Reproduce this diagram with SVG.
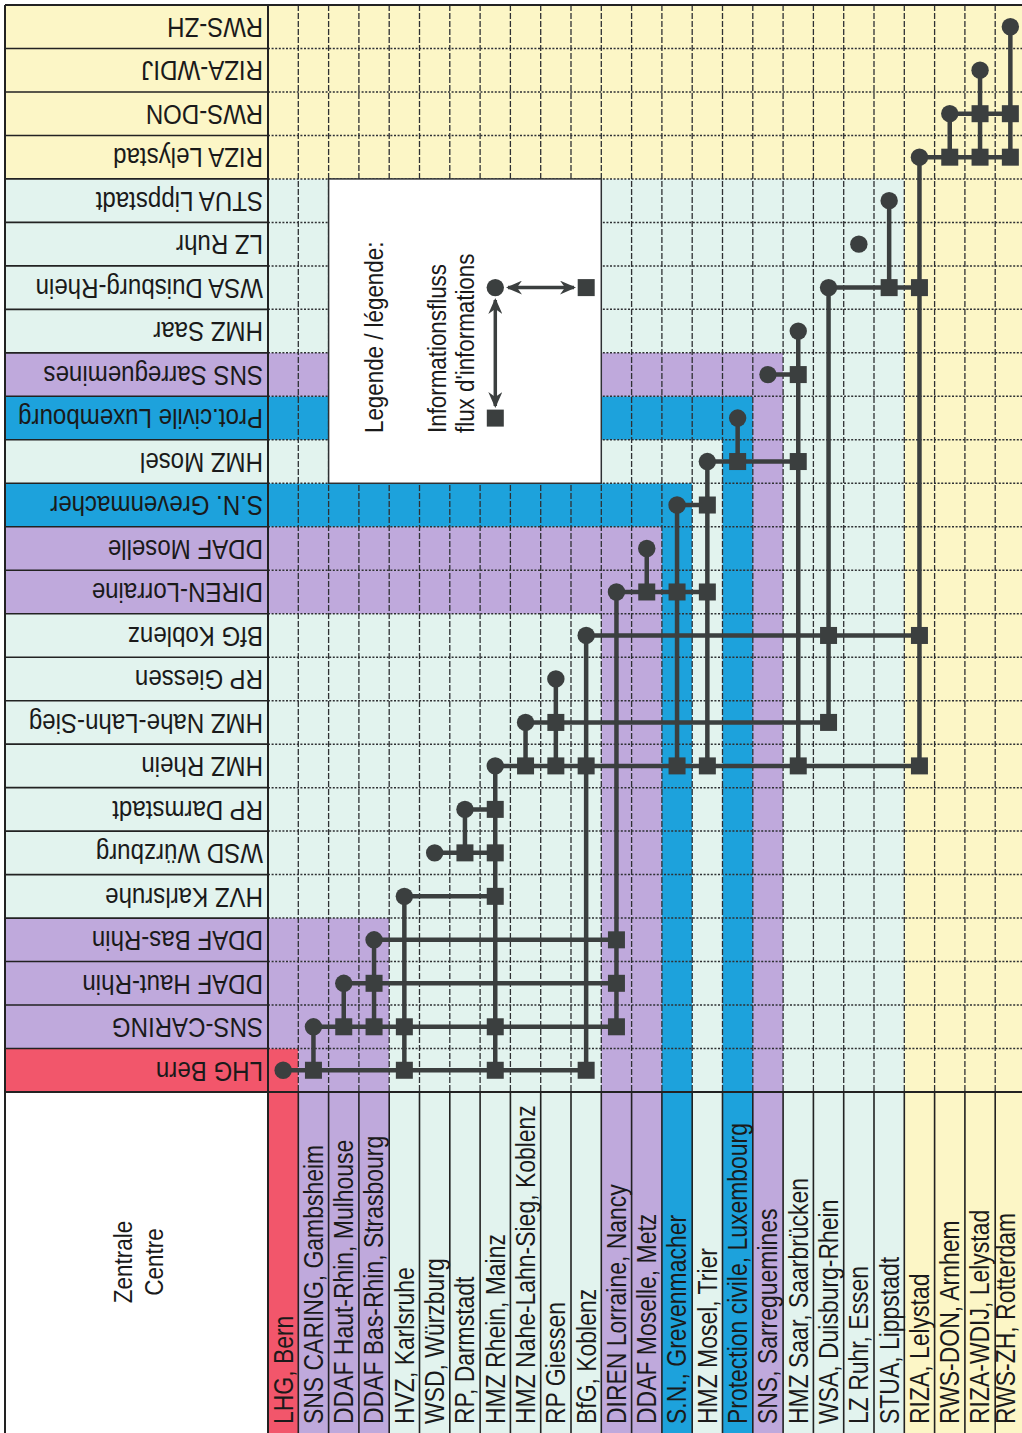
<svg xmlns="http://www.w3.org/2000/svg" xmlns:xlink="http://www.w3.org/1999/xlink" width="1022" height="1433" viewBox="0 0 1022 1433">
<style>
.t{font-family:"Liberation Sans",Arial,sans-serif;fill:#1a1a1a}
.rl{font-size:28px}
.cl{font-size:27px}
.lg{font-size:26px}
.zt{font-size:25px}
.re{fill:#f2566b}.pu{fill:#bfa9dc}.cy{fill:#e2f3ee}.bl{fill:#1da2dc}.ye{fill:#fcf6c6}
.gh{stroke:#2e3033;stroke-width:1.5;stroke-dasharray:2 1.6;fill:none}
.gv{stroke:#2e3033;stroke-width:1.3;stroke-dasharray:6 2;fill:none}
.sep{stroke:#222;stroke-width:1.6;fill:none}
.bd{stroke:#222;stroke-width:2;fill:none}
.ln{stroke:#3b3f3f;stroke-width:4.5;fill:none}
.nd{fill:#3b3f3f}
</style>
<defs>
<rect id="sq" x="-8.5" y="-8.5" width="17" height="17" class="nd"/>
<circle id="ci" r="8.7" class="nd"/>
<marker id="ah" viewBox="0 0 16 14" refX="14" refY="7" markerWidth="16" markerHeight="14" markerUnits="userSpaceOnUse" orient="auto-start-reverse">
<path d="M0,0 L16,7 L0,14 L5,7 z" fill="#3b3f3f"/>
</marker>
</defs>
<rect width="1022" height="1433" fill="#ffffff"/>
<g id="bands">
<rect class="re" x="5" y="1048.52" width="293.3" height="43.48"/><rect class="re" x="268" y="1048.52" width="30.3" height="384.48"/>
<rect class="pu" x="5" y="1005.04" width="323.6" height="43.48"/><rect class="pu" x="298.3" y="1005.04" width="30.3" height="427.96"/>
<rect class="pu" x="5" y="961.56" width="353.9" height="43.48"/><rect class="pu" x="328.6" y="961.56" width="30.3" height="471.44"/>
<rect class="pu" x="5" y="918.08" width="384.2" height="43.48"/><rect class="pu" x="358.9" y="918.08" width="30.3" height="514.92"/>
<rect class="cy" x="5" y="874.6" width="414.5" height="43.48"/><rect class="cy" x="389.2" y="874.6" width="30.3" height="558.4"/>
<rect class="cy" x="5" y="831.12" width="444.8" height="43.48"/><rect class="cy" x="419.5" y="831.12" width="30.3" height="601.88"/>
<rect class="cy" x="5" y="787.64" width="475.1" height="43.48"/><rect class="cy" x="449.8" y="787.64" width="30.3" height="645.36"/>
<rect class="cy" x="5" y="744.16" width="505.4" height="43.48"/><rect class="cy" x="480.1" y="744.16" width="30.3" height="688.84"/>
<rect class="cy" x="5" y="700.68" width="535.7" height="43.48"/><rect class="cy" x="510.4" y="700.68" width="30.3" height="732.32"/>
<rect class="cy" x="5" y="657.2" width="566" height="43.48"/><rect class="cy" x="540.7" y="657.2" width="30.3" height="775.8"/>
<rect class="cy" x="5" y="613.72" width="596.3" height="43.48"/><rect class="cy" x="571" y="613.72" width="30.3" height="819.28"/>
<rect class="pu" x="5" y="570.24" width="626.6" height="43.48"/><rect class="pu" x="601.3" y="570.24" width="30.3" height="862.76"/>
<rect class="pu" x="5" y="526.76" width="656.9" height="43.48"/><rect class="pu" x="631.6" y="526.76" width="30.3" height="906.24"/>
<rect class="bl" x="5" y="483.28" width="687.2" height="43.48"/><rect class="bl" x="661.9" y="483.28" width="30.3" height="949.72"/>
<rect class="cy" x="5" y="439.8" width="717.5" height="43.48"/><rect class="cy" x="692.2" y="439.8" width="30.3" height="993.2"/>
<rect class="bl" x="5" y="396.32" width="747.8" height="43.48"/><rect class="bl" x="722.5" y="396.32" width="30.3" height="1036.68"/>
<rect class="pu" x="5" y="352.84" width="778.1" height="43.48"/><rect class="pu" x="752.8" y="352.84" width="30.3" height="1080.16"/>
<rect class="cy" x="5" y="309.36" width="808.4" height="43.48"/><rect class="cy" x="783.1" y="309.36" width="30.3" height="1123.64"/>
<rect class="cy" x="5" y="265.88" width="838.7" height="43.48"/><rect class="cy" x="813.4" y="265.88" width="30.3" height="1167.12"/>
<rect class="cy" x="5" y="222.4" width="869" height="43.48"/><rect class="cy" x="843.7" y="222.4" width="30.3" height="1210.6"/>
<rect class="cy" x="5" y="178.92" width="899.3" height="43.48"/><rect class="cy" x="874" y="178.92" width="30.3" height="1254.08"/>
<rect class="ye" x="5" y="135.44" width="929.6" height="43.48"/><rect class="ye" x="904.3" y="135.44" width="30.3" height="1297.56"/>
<rect class="ye" x="5" y="91.96" width="959.9" height="43.48"/><rect class="ye" x="934.6" y="91.96" width="30.3" height="1341.04"/>
<rect class="ye" x="5" y="48.48" width="990.2" height="43.48"/><rect class="ye" x="964.9" y="48.48" width="30.3" height="1384.52"/>
<rect class="ye" x="5" y="5" width="1017" height="43.48"/><rect class="ye" x="995.2" y="5" width="30.3" height="1428"/>
</g>
<g id="grid">
<path class="gh" d="M268 48.48H1022M268 91.96H1022M268 135.44H1022M268 178.92H1022M268 222.4H1022M268 265.88H1022M268 309.36H1022M268 352.84H1022M268 396.32H1022M268 439.8H1022M268 483.28H1022M268 526.76H1022M268 570.24H1022M268 613.72H1022M268 657.2H1022M268 700.68H1022M268 744.16H1022M268 787.64H1022M268 831.12H1022M268 874.6H1022M268 918.08H1022M268 961.56H1022M268 1005.04H1022M268 1048.52H1022"/>
<path class="gv" d="M298.3 5V1092M328.6 5V1092M358.9 5V1092M389.2 5V1092M419.5 5V1092M449.8 5V1092M480.1 5V1092M510.4 5V1092M540.7 5V1092M571 5V1092M601.3 5V1092M631.6 5V1092M661.9 5V1092M692.2 5V1092M722.5 5V1092M752.8 5V1092M783.1 5V1092M813.4 5V1092M843.7 5V1092M874 5V1092M904.3 5V1092M934.6 5V1092M964.9 5V1092M995.2 5V1092"/>
<path class="sep" d="M5 48.48H268M5 91.96H268M5 135.44H268M5 178.92H268M5 222.4H268M5 265.88H268M5 309.36H268M5 352.84H268M5 396.32H268M5 439.8H268M5 483.28H268M5 526.76H268M5 570.24H268M5 613.72H268M5 657.2H268M5 700.68H268M5 744.16H268M5 787.64H268M5 831.12H268M5 874.6H268M5 918.08H268M5 961.56H268M5 1005.04H268M5 1048.52H268"/>
<path class="sep" d="M298.3 1092V1433M328.6 1092V1433M358.9 1092V1433M389.2 1092V1433M419.5 1092V1433M449.8 1092V1433M480.1 1092V1433M510.4 1092V1433M540.7 1092V1433M571 1092V1433M601.3 1092V1433M631.6 1092V1433M661.9 1092V1433M692.2 1092V1433M722.5 1092V1433M752.8 1092V1433M783.1 1092V1433M813.4 1092V1433M843.7 1092V1433M874 1092V1433M904.3 1092V1433M934.6 1092V1433M964.9 1092V1433M995.2 1092V1433"/>
<path class="bd" d="M5 5H1022M5 5V1433M268 5V1433M5 1092H1022"/>
</g>
<g id="legend">
<rect x="328.6" y="178.92" width="272.7" height="304.36" fill="#ffffff" stroke="#2e3033" stroke-width="1.5"/>
<text class="t lg" transform="translate(383,433) rotate(-90) scale(0.86,1)">Legende / légende:</text>
<text class="t lg" transform="translate(446,433) rotate(-90) scale(0.86,1)">Informationsfluss</text>
<text class="t lg" transform="translate(474,433) rotate(-90) scale(0.86,1)">flux d'informations</text>
<line x1="508" y1="287.6" x2="574" y2="287.6" stroke="#3b3f3f" stroke-width="3.5" marker-start="url(#ah)" marker-end="url(#ah)"/>
<line x1="495.3" y1="300" x2="495.3" y2="406" stroke="#3b3f3f" stroke-width="3.5" marker-start="url(#ah)" marker-end="url(#ah)"/>
<use href="#ci" x="495.3" y="287.6"/>
<use href="#sq" x="586.2" y="287.6"/>
<use href="#sq" x="495.3" y="418.1"/>
</g>
<g id="zentrale">
<text class="t zt" text-anchor="middle" transform="translate(132,1262) rotate(-90) scale(0.9,1)">Zentrale</text>
<text class="t zt" text-anchor="middle" transform="translate(163,1262) rotate(-90) scale(0.9,1)">Centre</text>
</g>
<g id="connectors">
<path class="ln" d="M283.15 1070.26H586.15M313.45 1026.78H616.45M343.75 983.3H616.45M374.05 939.82H616.45M404.35 896.34H495.25M434.65 852.86H495.25M464.95 809.38H495.25M495.25 765.9H919.45M525.55 722.42H828.55M586.15 635.46H919.45M616.45 591.98H707.35M677.05 505.02H707.35M707.35 461.54H798.25M767.95 374.58H798.25M828.55 287.62H919.45M919.45 157.18H1010.35M949.75 113.7H1010.35"/>
<path class="ln" d="M313.45 1026.78V1070.26M343.75 983.3V1026.78M374.05 939.82V1026.78M404.35 896.34V1070.26M464.95 809.38V852.86M495.25 765.9V1070.26M525.55 722.42V765.9M555.85 678.94V765.9M586.15 635.46V1070.26M616.45 591.98V1026.78M646.75 548.5V591.98M677.05 505.02V765.9M707.35 461.54V765.9M737.65 418.06V461.54M798.25 331.1V765.9M828.55 287.62V722.42M889.15 200.66V287.62M919.45 157.18V765.9M949.75 113.7V157.18M980.05 70.22V157.18M1010.35 26.74V157.18"/>
<use href="#sq" x="313.45" y="1070.26"/><use href="#sq" x="404.35" y="1070.26"/><use href="#sq" x="495.25" y="1070.26"/><use href="#sq" x="586.15" y="1070.26"/>
<use href="#sq" x="343.75" y="1026.78"/><use href="#sq" x="374.05" y="1026.78"/><use href="#sq" x="404.35" y="1026.78"/><use href="#sq" x="495.25" y="1026.78"/><use href="#sq" x="616.45" y="1026.78"/>
<use href="#sq" x="374.05" y="983.3"/><use href="#sq" x="616.45" y="983.3"/>
<use href="#sq" x="616.45" y="939.82"/>
<use href="#sq" x="495.25" y="896.34"/>
<use href="#sq" x="464.95" y="852.86"/><use href="#sq" x="495.25" y="852.86"/>
<use href="#sq" x="495.25" y="809.38"/>
<use href="#sq" x="525.55" y="765.9"/><use href="#sq" x="555.85" y="765.9"/><use href="#sq" x="586.15" y="765.9"/><use href="#sq" x="677.05" y="765.9"/><use href="#sq" x="707.35" y="765.9"/><use href="#sq" x="798.25" y="765.9"/><use href="#sq" x="919.45" y="765.9"/>
<use href="#sq" x="555.85" y="722.42"/><use href="#sq" x="828.55" y="722.42"/>
<use href="#sq" x="828.55" y="635.46"/><use href="#sq" x="919.45" y="635.46"/>
<use href="#sq" x="646.75" y="591.98"/><use href="#sq" x="677.05" y="591.98"/><use href="#sq" x="707.35" y="591.98"/>
<use href="#sq" x="707.35" y="505.02"/>
<use href="#sq" x="737.65" y="461.54"/><use href="#sq" x="798.25" y="461.54"/>
<use href="#sq" x="798.25" y="374.58"/>
<use href="#sq" x="889.15" y="287.62"/><use href="#sq" x="919.45" y="287.62"/>
<use href="#sq" x="949.75" y="157.18"/><use href="#sq" x="980.05" y="157.18"/><use href="#sq" x="1010.35" y="157.18"/>
<use href="#sq" x="980.05" y="113.7"/><use href="#sq" x="1010.35" y="113.7"/>
</g>
<g id="n00"><text class="t rl" transform="translate(263,1061.52) rotate(180) scale(0.86,1)">LHG Bern</text><text class="t cl" transform="translate(292.5,1424) rotate(-90) scale(0.85,1)">LHG, Bern</text><use href="#ci" x="283.15" y="1070.26"/></g>
<g id="n01"><text class="t rl" transform="translate(263,1018.04) rotate(180) scale(0.86,1)">SNS-CARING</text><text class="t cl" transform="translate(322.8,1424) rotate(-90) scale(0.85,1)">SNS CARING, Gambsheim</text><use href="#ci" x="313.45" y="1026.78"/></g>
<g id="n02"><text class="t rl" transform="translate(263,974.56) rotate(180) scale(0.86,1)">DDAF Haut-Rhin</text><text class="t cl" transform="translate(353.1,1424) rotate(-90) scale(0.85,1)">DDAF Haut-Rhin, Mulhouse</text><use href="#ci" x="343.75" y="983.3"/></g>
<g id="n03"><text class="t rl" transform="translate(263,931.08) rotate(180) scale(0.86,1)">DDAF Bas-Rhin</text><text class="t cl" transform="translate(383.4,1424) rotate(-90) scale(0.85,1)">DDAF Bas-Rhin, Strasbourg</text><use href="#ci" x="374.05" y="939.82"/></g>
<g id="n04"><text class="t rl" transform="translate(263,887.6) rotate(180) scale(0.86,1)">HVZ Karlsruhe</text><text class="t cl" transform="translate(413.7,1424) rotate(-90) scale(0.85,1)">HVZ, Karlsruhe</text><use href="#ci" x="404.35" y="896.34"/></g>
<g id="n05"><text class="t rl" transform="translate(263,844.12) rotate(180) scale(0.86,1)">WSD Würzburg</text><text class="t cl" transform="translate(444,1424) rotate(-90) scale(0.85,1)">WSD, Würzburg</text><use href="#ci" x="434.65" y="852.86"/></g>
<g id="n06"><text class="t rl" transform="translate(263,800.64) rotate(180) scale(0.86,1)">RP Darmstadt</text><text class="t cl" transform="translate(474.3,1424) rotate(-90) scale(0.85,1)">RP, Darmstadt</text><use href="#ci" x="464.95" y="809.38"/></g>
<g id="n07"><text class="t rl" transform="translate(263,757.16) rotate(180) scale(0.86,1)">HMZ Rhein</text><text class="t cl" transform="translate(504.6,1424) rotate(-90) scale(0.85,1)">HMZ Rhein, Mainz</text><use href="#ci" x="495.25" y="765.9"/></g>
<g id="n08"><text class="t rl" transform="translate(263,713.68) rotate(180) scale(0.86,1)">HMZ Nahe-Lahn-Sieg</text><text class="t cl" transform="translate(534.9,1424) rotate(-90) scale(0.85,1)">HMZ Nahe-Lahn-Sieg, Koblenz</text><use href="#ci" x="525.55" y="722.42"/></g>
<g id="n09"><text class="t rl" transform="translate(263,670.2) rotate(180) scale(0.86,1)">RP Giessen</text><text class="t cl" transform="translate(565.2,1424) rotate(-90) scale(0.85,1)">RP Giessen</text><use href="#ci" x="555.85" y="678.94"/></g>
<g id="n10"><text class="t rl" transform="translate(263,626.72) rotate(180) scale(0.86,1)">BfG Koblenz</text><text class="t cl" transform="translate(595.5,1424) rotate(-90) scale(0.85,1)">BfG, Koblenz</text><use href="#ci" x="586.15" y="635.46"/></g>
<g id="n11"><text class="t rl" transform="translate(263,583.24) rotate(180) scale(0.86,1)">DIREN-Lorraine</text><text class="t cl" transform="translate(625.8,1424) rotate(-90) scale(0.85,1)">DIREN Lorraine, Nancy</text><use href="#ci" x="616.45" y="591.98"/></g>
<g id="n12"><text class="t rl" transform="translate(263,539.76) rotate(180) scale(0.86,1)">DDAF Moselle</text><text class="t cl" transform="translate(656.1,1424) rotate(-90) scale(0.85,1)">DDAF Moselle, Metz</text><use href="#ci" x="646.75" y="548.5"/></g>
<g id="n13"><text class="t rl" transform="translate(263,496.28) rotate(180) scale(0.86,1)">S.N. Grevenmacher</text><text class="t cl" transform="translate(686.4,1424) rotate(-90) scale(0.85,1)">S.N., Grevenmacher</text><use href="#ci" x="677.05" y="505.02"/></g>
<g id="n14"><text class="t rl" transform="translate(263,452.8) rotate(180) scale(0.86,1)">HMZ Mosel</text><text class="t cl" transform="translate(716.7,1424) rotate(-90) scale(0.85,1)">HMZ Mosel, Trier</text><use href="#ci" x="707.35" y="461.54"/></g>
<g id="n15"><text class="t rl" transform="translate(263,409.32) rotate(180) scale(0.86,1)">Prot.civile Luxembourg</text><text class="t cl" transform="translate(747,1424) rotate(-90) scale(0.85,1)">Protection civile, Luxembourg</text><use href="#ci" x="737.65" y="418.06"/></g>
<g id="n16"><text class="t rl" transform="translate(263,365.84) rotate(180) scale(0.86,1)">SNS Sarreguemines</text><text class="t cl" transform="translate(777.3,1424) rotate(-90) scale(0.85,1)">SNS, Sarreguemines</text><use href="#ci" x="767.95" y="374.58"/></g>
<g id="n17"><text class="t rl" transform="translate(263,322.36) rotate(180) scale(0.86,1)">HMZ Saar</text><text class="t cl" transform="translate(807.6,1424) rotate(-90) scale(0.85,1)">HMZ Saar, Saarbrücken</text><use href="#ci" x="798.25" y="331.1"/></g>
<g id="n18"><text class="t rl" transform="translate(263,278.88) rotate(180) scale(0.86,1)">WSA Duisburg-Rhein</text><text class="t cl" transform="translate(837.9,1424) rotate(-90) scale(0.85,1)">WSA, Duisburg-Rhein</text><use href="#ci" x="828.55" y="287.62"/></g>
<g id="n19"><text class="t rl" transform="translate(263,235.4) rotate(180) scale(0.86,1)">LZ Ruhr</text><text class="t cl" transform="translate(868.2,1424) rotate(-90) scale(0.85,1)">LZ Ruhr, Essen</text><use href="#ci" x="858.85" y="244.14"/></g>
<g id="n20"><text class="t rl" transform="translate(263,191.92) rotate(180) scale(0.86,1)">STUA Lippstadt</text><text class="t cl" transform="translate(898.5,1424) rotate(-90) scale(0.85,1)">STUA, Lippstadt</text><use href="#ci" x="889.15" y="200.66"/></g>
<g id="n21"><text class="t rl" transform="translate(263,148.44) rotate(180) scale(0.86,1)">RIZA Lelystad</text><text class="t cl" transform="translate(928.8,1424) rotate(-90) scale(0.85,1)">RIZA, Lelystad</text><use href="#ci" x="919.45" y="157.18"/></g>
<g id="n22"><text class="t rl" transform="translate(263,104.96) rotate(180) scale(0.86,1)">RWS-DON</text><text class="t cl" transform="translate(959.1,1424) rotate(-90) scale(0.85,1)">RWS-DON, Arnhem</text><use href="#ci" x="949.75" y="113.7"/></g>
<g id="n23"><text class="t rl" transform="translate(263,61.48) rotate(180) scale(0.86,1)">RIZA-WDIJ</text><text class="t cl" transform="translate(989.4,1424) rotate(-90) scale(0.85,1)">RIZA-WDIJ, Lelystad</text><use href="#ci" x="980.05" y="70.22"/></g>
<g id="n24"><text class="t rl" transform="translate(263,18) rotate(180) scale(0.86,1)">RWS-ZH</text><text class="t cl" transform="translate(1015,1424) rotate(-90) scale(0.85,1)">RWS-ZH, Rotterdam</text><use href="#ci" x="1010.35" y="26.74"/></g>
</svg>
